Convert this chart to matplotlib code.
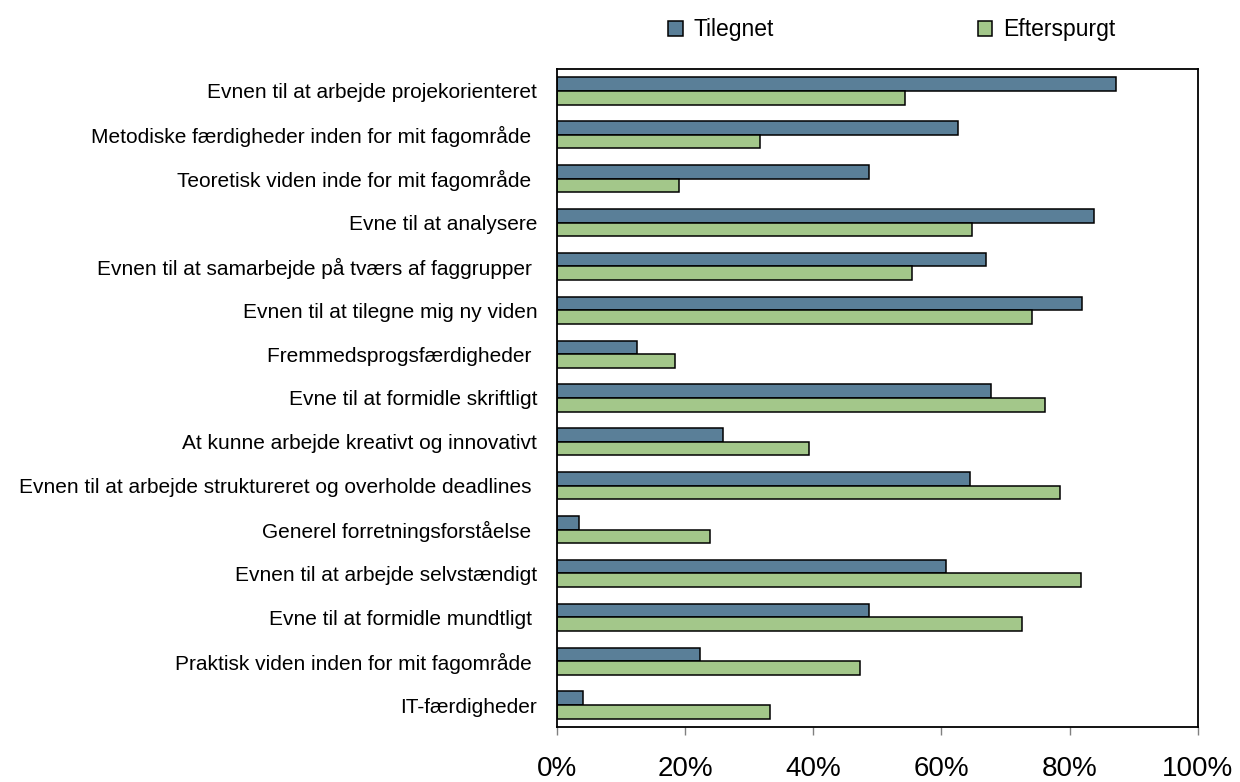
import matplotlib
matplotlib.use("Agg")
import matplotlib.pyplot as plt
import numpy as np
from matplotlib.ticker import FuncFormatter

categories = [
    "Evnen til at arbejde projekorienteret",
    "Metodiske færdigheder inden for mit fagområde ",
    "Teoretisk viden inde for mit fagområde ",
    "Evne til at analysere",
    "Evnen til at samarbejde på tværs af faggrupper ",
    "Evnen til at tilegne mig ny viden",
    "Fremmedsprogsfærdigheder ",
    "Evne til at formidle skriftligt",
    "At kunne arbejde kreativt og innovativt",
    "Evnen til at arbejde struktureret og overholde deadlines ",
    "Generel forretningsforståelse ",
    "Evnen til at arbejde selvstændigt",
    "Evne til at formidle mundtligt ",
    "Praktisk viden inden for mit fagområde ",
    "IT-færdigheder",
]
tilegnet = [87.2, 62.6, 48.7, 83.8, 66.9, 81.9, 12.5, 67.7, 25.9, 64.4,
            3.4, 60.7, 48.7, 22.3, 4.1]
efterspurgt = [54.3, 31.7, 19.0, 64.7, 55.4, 74.1, 18.4, 76.1, 39.3, 78.5,
               23.9, 81.7, 72.5, 47.3, 33.3]
x_ticks = [0, 20, 40, 60, 80, 100]

plt.rcParams["font.family"] = ["Liberation Sans", "DejaVu Sans"]

BLUE = "#5A7F98"
GREEN = "#A3C78A"

fig = plt.figure(figsize=(12.4, 7.82), dpi=100)
ax = fig.add_axes([0.449, 0.0703, 0.517, 0.8415])

y = np.arange(len(categories))
h = 0.31
ax.barh(y - h / 2, tilegnet, h, color=BLUE, edgecolor="black",
        linewidth=1.1, label="Tilegnet")
ax.barh(y + h / 2, efterspurgt, h, color=GREEN, edgecolor="black",
        linewidth=1.1, label="Efterspurgt")

ax.set_xlim(0, 100)
ax.set_ylim(len(categories) - 0.5, -0.5)
ax.set_yticks(y)
ax.set_yticklabels(categories, fontsize=15)
ax.tick_params(axis="y", length=0, pad=14)
ax.set_xticks(x_ticks)
ax.xaxis.set_major_formatter(FuncFormatter(lambda v, _: f"{v:.0f}%"))
ax.tick_params(axis="x", labelsize=20, length=6, width=1, color="#808080",
               pad=15, direction="out")

for s in ax.spines.values():
    s.set_linewidth(1.3)
    s.set_color("black")

fig.legend(loc="center", bbox_to_anchor=(0.719, 0.962), ncol=2,
           frameon=False, fontsize=16.5, handlelength=0.65,
           handleheight=0.65, handletextpad=0.45, columnspacing=8.9)

fig.savefig("out.png", dpi=100)
